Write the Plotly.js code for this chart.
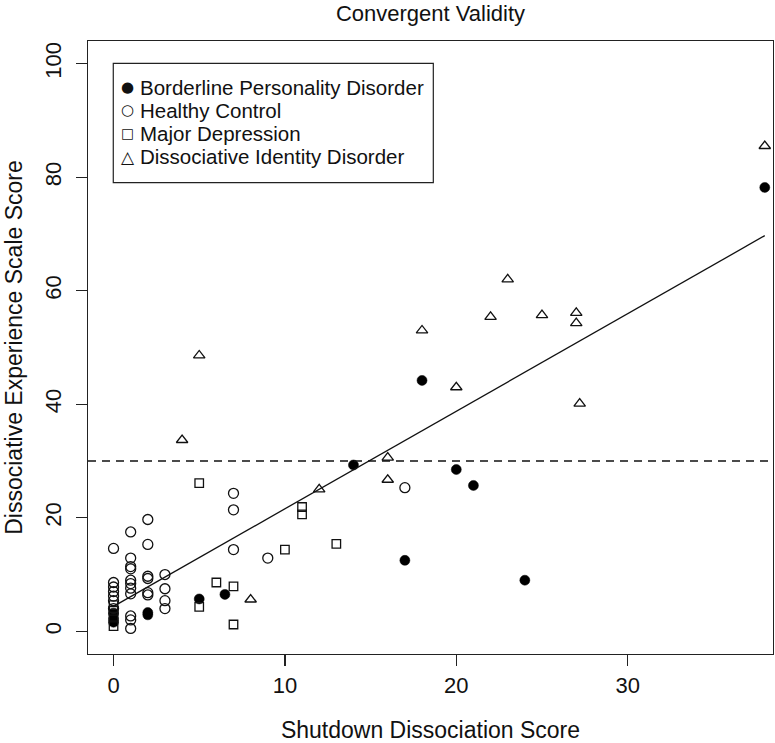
<!DOCTYPE html>
<html>
<head>
<meta charset="utf-8">
<script src="https://cdn.plot.ly/plotly-3.0.1.min.js"></script>
<style>html,body{margin:0;padding:0;background:#fff;}#chart{width:775px;height:743px;}</style>
</head>
<body>
<div id="chart"></div>
<script>
// Borderline Personality Disorder
const bpdX = [0, 0, 0, 2, 2, 5, 6.5, 14, 17, 18, 20, 21, 24, 38];
const bpdY = [3.2, 2.2, 1.6, 3.3, 2.9, 5.7, 6.5, 29.3, 12.5, 44.2, 28.5, 25.7, 9.0, 78.2];
// Healthy Control
const hcX = [0, 0, 0, 0, 0, 0, 0,
             1, 1, 1, 1, 1, 1, 1, 1, 1, 1, 1,
             2, 2, 2, 2, 2, 2,
             3, 3, 3, 3,
             7, 7, 7, 9, 17];
const hcY = [14.6, 8.6, 7.8, 7.0, 6.2, 5.4, 4.0,
             17.5, 12.9, 11.4, 11.0, 9.0, 8.4, 7.6, 6.6, 2.7, 2.0, 0.5,
             19.7, 15.3, 9.7, 9.3, 6.8, 6.4,
             10.0, 7.5, 5.4, 4.0,
             24.3, 21.4, 14.4, 12.9, 25.3];
// Major Depression
const mdX = [0, 0, 0, 0, 5, 5, 6, 7, 7, 10, 11, 11, 13];
const mdY = [4.6, 3.6, 2.6, 0.9, 26.1, 4.3, 8.6, 7.9, 1.2, 14.4, 21.9, 20.6, 15.4];
// Dissociative Identity Disorder
const didX = [4, 5, 8, 12, 16, 16, 18, 20, 22, 23, 25, 27, 27, 27.2, 38];
const didY = [33.7, 48.6, 5.6, 25.0, 30.6, 26.7, 53.0, 43.0, 55.4, 62.0, 55.7, 56.1, 54.3, 40.1, 85.5];
// Fitted regression line (endpoints)
const fitX = [0, 38];
const fitY = [4.4, 69.7];
// Reference cut-off
const cutoffY = 30;
// Ticks
const xTicks = [0, 10, 20, 30];
const yTicks = [0, 20, 40, 60, 80, 100];
// Legend
const legendLabels = ['Borderline Personality Disorder', 'Healthy Control', 'Major Depression', 'Dissociative Identity Disorder'];
const legendSymbols = ['\u25CF', '\u25CB', '\u25A1', '\u25B3'];

const FONT = 'Liberation Sans, Arial, Helvetica, sans-serif';
const mline = {color: '#111', width: 1.3};

const traces = [
  {x: bpdX, y: bpdY, type: 'scatter', mode: 'markers', name: legendLabels[0],
   marker: {symbol: 'circle', size: 10, color: '#000', line: {color: '#000', width: 0.5}}},
  {x: hcX, y: hcY, type: 'scatter', mode: 'markers', name: legendLabels[1],
   marker: {symbol: 'circle-open', size: 10, color: '#111', line: mline}},
  {x: mdX, y: mdY, type: 'scatter', mode: 'markers', name: legendLabels[2],
   marker: {symbol: 'square-open', size: 8.5, color: '#111', line: mline}},
  {x: didX, y: didY, type: 'scatter', mode: 'markers', name: legendLabels[3],
   marker: {symbol: 'triangle-up-open', size: 10, color: '#111', line: mline}},
  {x: fitX, y: fitY, type: 'scatter', mode: 'lines', showlegend: false, hoverinfo: 'skip',
   line: {color: '#111', width: 1.3}}
];

// legend box geometry (paper coordinates)
const legX0 = 0.0369, legX1 = 0.5041, legYTop = 0.9636, legYBot = 0.7689;
const legSymX = 0.058, legTextX = 0.0734;
const legRowY = [0.9245, 0.8874, 0.8494, 0.8113];
const symSizes = [15, 15, 13.5, 17];

const annotations = [];
legendLabels.forEach((lab, i) => {
  annotations.push({xref: 'paper', yref: 'paper', x: legSymX, y: legRowY[i], xanchor: 'center', yanchor: 'middle',
    text: legendSymbols[i], showarrow: false, font: {family: 'DejaVu Sans, Liberation Sans, sans-serif', size: symSizes[i], color: '#111'}});
  annotations.push({xref: 'paper', yref: 'paper', x: legTextX, y: legRowY[i], xanchor: 'left', yanchor: 'middle',
    text: lab, showarrow: false, font: {family: FONT, size: 20.5, color: '#111'}});
});

const layout = {
  width: 775, height: 743,
  margin: {l: 88, r: 2, t: 41, b: 89, pad: 0},
  paper_bgcolor: '#fff', plot_bgcolor: '#fff',
  font: {family: FONT, color: '#111', size: 22},
  showlegend: false,
  title: {text: 'Convergent Validity', font: {family: FONT, size: 22, color: '#111'},
          x: 0.5, xref: 'paper', y: 0.982, yref: 'container', yanchor: 'middle'},
  xaxis: {
    range: [-1.49, 38.48], tickvals: xTicks, ticktext: xTicks.map(String),
    showgrid: false, zeroline: false, showline: true, mirror: true,
    linecolor: '#222', linewidth: 1.2,
    ticks: 'outside', ticklen: 11, tickwidth: 1.2, tickcolor: '#222',
    tickfont: {family: FONT, size: 22, color: '#111'},
    title: {text: 'Shutdown Dissociation Score', font: {family: FONT, size: 23, color: '#111'}, standoff: 34}
  },
  yaxis: {
    range: [-4, 104], tickvals: yTicks, ticktext: yTicks.map(String), tickangle: -90,
    showgrid: false, zeroline: false, showline: true, mirror: true,
    linecolor: '#222', linewidth: 1.2,
    ticks: 'outside', ticklen: 11, tickwidth: 1.2, tickcolor: '#222',
    ticklabelstandoff: 6,
    tickfont: {family: FONT, size: 22, color: '#111'},
    title: {text: 'Dissociative Experience Scale Score', font: {family: FONT, size: 23, color: '#111'}, standoff: 12}
  },
  shapes: [
    {type: 'line', xref: 'paper', x0: 0, x1: 1, yref: 'y', y0: cutoffY, y1: cutoffY,
     line: {color: '#111', width: 1.3, dash: '8px,6px'}},
    {type: 'rect', xref: 'paper', yref: 'paper', x0: legX0, x1: legX1, y0: legYBot, y1: legYTop,
     fillcolor: '#fff', line: {color: '#222', width: 1.2}, layer: 'below'}
  ],
  annotations: annotations
};

Plotly.newPlot('chart', traces, layout, {staticPlot: true, displayModeBar: false});
</script>
</body>
</html>
